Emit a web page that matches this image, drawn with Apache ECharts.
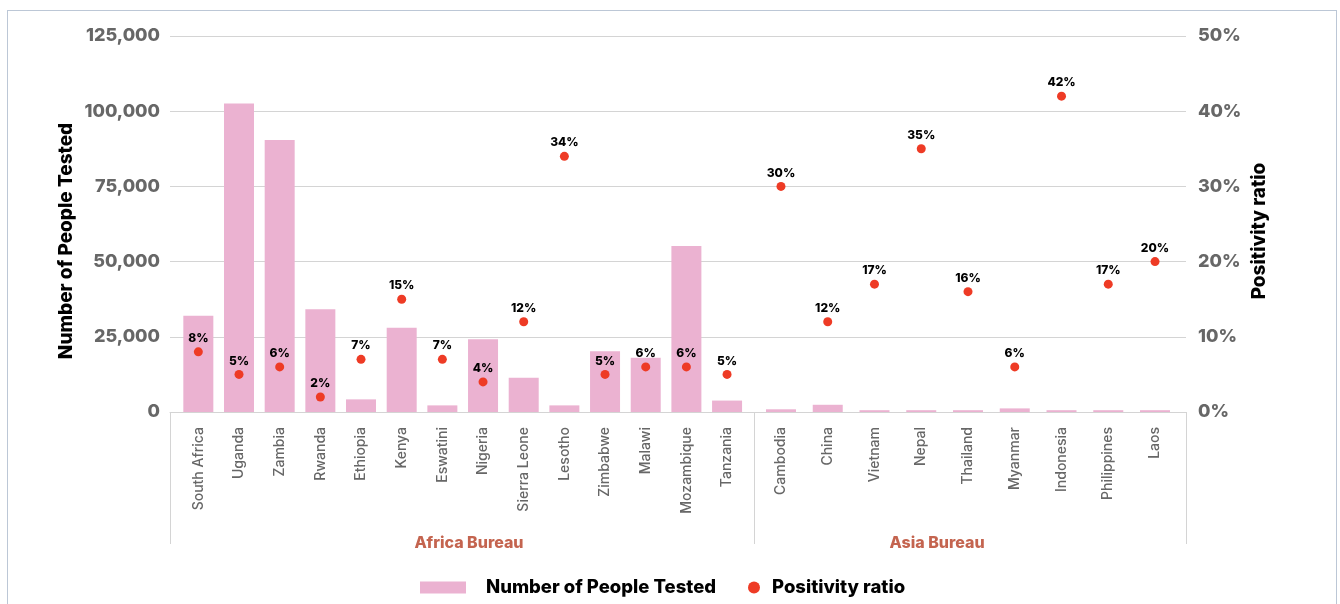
<!DOCTYPE html>
<html>
<head>
<meta charset="utf-8">
<script src="https://cdn.jsdelivr.net/npm/echarts@6/dist/echarts.min.js"></script>
<style>
  html, body { margin: 0; padding: 0; background: #fff; }
  #chart { position: absolute; left: 0; top: 0; width: 1340px; height: 604px; }
  #frame { position: absolute; left: 7px; top: 10px; width: 1330px; height: 620px;
           border: 1px solid #bcc7d6; box-sizing: border-box; pointer-events: none; }
</style>
</head>
<body>
<div id="chart"></div>
<div id="frame"></div>
<script>
// Countries grouped by bureau
const bureaus = ['Africa Bureau', 'Asia Bureau'];
const africaCountries = ['South Africa', 'Uganda', 'Zambia', 'Rwanda', 'Ethiopia', 'Kenya', 'Eswatini',
  'Nigeria', 'Sierra Leone', 'Lesotho', 'Zimbabwe', 'Malawi', 'Mozambique', 'Tanzania'];
const asiaCountries = ['Cambodia', 'China', 'Vietnam', 'Nepal', 'Thailand', 'Myanmar', 'Indonesia',
  'Philippines', 'Laos'];

// Number of people tested
const africaTested = [32000, 102600, 90400, 34200, 4200, 28000, 2200, 24200, 11400, 2200, 20200, 18000, 55200, 3800];
const asiaTested = [900, 2400, 600, 600, 600, 1200, 600, 600, 600];

// Positivity ratio (%)
const africaPositivity = [8, 5, 6, 2, 7, 15, 7, 4, 12, 34, 5, 6, 6, 5];
const asiaPositivity = [30, 12, 17, 35, 16, 6, 42, 17, 20];

// Axis ranges
const testedMax = 125000, testedStep = 25000;
const ratioMax = 50, ratioStep = 10;

const FONT = 'Inter';
const GRAY = '#676767';
const LINE = '#d4d4d4';
const BAR = '#ebb2d1';
const DOT = '#ee3b25';

const chart = echarts.init(document.getElementById('chart'), null, { renderer: 'canvas' });

const bureauAxis = (grid, name, pad) => ({
  type: 'category', gridIndex: grid, data: [name], position: 'bottom',
  axisLine: { show: true, lineStyle: { color: LINE, width: 1 } },
  axisTick: { show: true, alignWithLabel: false, length: 132, lineStyle: { color: LINE, width: 1 } },
  axisLabel: { margin: 123, color: '#c4644f', fontFamily: FONT, fontWeight: 800, fontSize: 16, padding: pad },
  splitLine: { show: false }
});

const countryAxis = (grid, data) => ({
  type: 'category', gridIndex: grid, data: data, position: 'bottom',
  axisLine: { show: false }, axisTick: { show: false },
  axisLabel: { rotate: 90, margin: 15, color: GRAY, fontFamily: FONT, fontSize: 14, fontWeight: 500, interval: 0 }
});

const hiddenY = (grid, max) => ({ type: 'value', gridIndex: grid, min: 0, max: max, show: false });

const ratioLabel = {
  show: true, position: 'top', distance: 3,
  formatter: p => p.value + '%',
  color: '#000', fontFamily: FONT, fontWeight: 800, fontSize: 12
};

chart.setOption({
  animation: false,
  backgroundColor: '#fff',
  textStyle: { fontFamily: FONT },
  grid: [
    { left: 170, right: 1340 - 754, top: 36, bottom: 192 },       // Africa frame
    { left: 754, right: 1340 - 1186, top: 36, bottom: 192 },      // Asia frame
    { left: 178, right: 1340 - 747.4, top: 36, bottom: 192 },     // Africa data
    { left: 757.6, right: 1340 - 1178.4, top: 36, bottom: 192 }   // Asia data
  ],
  xAxis: [
    bureauAxis(0, bureaus[0], [0, 0, 0, 14]),
    bureauAxis(1, bureaus[1], [0, 66, 0, 0]),
    countryAxis(2, africaCountries),
    countryAxis(3, asiaCountries)
  ],
  yAxis: [
    {
      type: 'value', gridIndex: 0, position: 'left', min: 0, max: testedMax, interval: testedStep,
      name: 'Number of People Tested', nameLocation: 'middle', nameRotate: 90, nameGap: 94,
      nameTextStyle: { color: '#000', fontFamily: FONT, fontWeight: 800, fontSize: 19, padding: [0, 34, 0, 0] },
      axisLine: { show: false }, axisTick: { show: false },
      axisLabel: { margin: 10, color: GRAY, fontFamily: FONT, fontWeight: 800, fontSize: 18,
        formatter: v => v.toLocaleString('en-US') },
      splitLine: { show: true, lineStyle: { color: LINE, width: 1 } }
    },
    {
      type: 'value', gridIndex: 1, position: 'right', min: 0, max: ratioMax, interval: ratioStep,
      name: 'Positivity ratio', nameLocation: 'middle', nameRotate: 90, nameGap: 64,
      nameTextStyle: { color: '#000', fontFamily: FONT, fontWeight: 800, fontSize: 19, padding: [0, 14, 0, 0] },
      axisLine: { show: false }, axisTick: { show: false },
      axisLabel: { margin: 12, color: GRAY, fontFamily: FONT, fontWeight: 800, fontSize: 18, formatter: '{value}%' },
      splitLine: { show: true, lineStyle: { color: LINE, width: 1 } }
    },
    hiddenY(2, testedMax), hiddenY(2, ratioMax),
    hiddenY(3, testedMax), hiddenY(3, ratioMax)
  ],
  legend: [
    {
      data: [{ name: 'Number of People Tested', icon: 'rect' }],
      left: 420, top: 578, padding: 0, itemWidth: 46, itemHeight: 12,
      textStyle: { color: '#000', fontFamily: FONT, fontWeight: 800, fontSize: 18.5, padding: [0, 0, 0, 15] }
    },
    {
      data: [{ name: 'Positivity ratio', icon: 'circle' }],
      left: 748, top: 578, padding: 0, itemWidth: 12, itemHeight: 12,
      textStyle: { color: '#000', fontFamily: FONT, fontWeight: 800, fontSize: 18.5, padding: [0, 0, 0, 7] }
    }
  ],
  series: [
    { name: 'Number of People Tested', type: 'bar', xAxisIndex: 2, yAxisIndex: 2, data: africaTested,
      barWidth: 30, itemStyle: { color: BAR }, z: 2 },
    { name: 'Number of People Tested', type: 'bar', xAxisIndex: 3, yAxisIndex: 4, data: asiaTested,
      barWidth: 30, itemStyle: { color: BAR }, z: 2 },
    { name: 'Positivity ratio', type: 'scatter', xAxisIndex: 2, yAxisIndex: 3, data: africaPositivity,
      symbolSize: 9, itemStyle: { color: DOT, opacity: 1 }, label: ratioLabel, z: 3 },
    { name: 'Positivity ratio', type: 'scatter', xAxisIndex: 3, yAxisIndex: 5, data: asiaPositivity,
      symbolSize: 9, itemStyle: { color: DOT, opacity: 1 }, label: ratioLabel, z: 3 }
  ]
});
</script>
</body>
</html>
